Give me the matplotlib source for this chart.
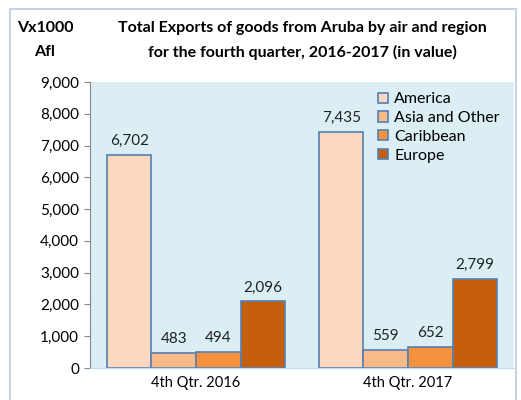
import numpy as np
import matplotlib.pyplot as plt
from matplotlib.patches import Rectangle

plt.rcParams['font.family'] = ['Lato', 'DejaVu Sans']

# Data
quarters = ['4th Qtr. 2016', '4th Qtr. 2017']
regions = ['America', 'Asia and Other', 'Caribbean', 'Europe']
america = [6702, 7435]
asia_other = [483, 559]
caribbean = [494, 652]
europe = [2096, 2799]

series = [america, asia_other, caribbean, europe]
colors = ['#FCD9BE', '#FABB88', '#F6923D', '#C55E0D']
edge = '#5580B5'

fig = plt.figure(figsize=(5.21, 4.00), dpi=100)
ax = fig.add_axes([90 / 521, 32 / 400, 424 / 521, 286 / 400])
ax.set_facecolor('#DAEEF3')

x = np.arange(len(quarters))
w = 0.21
for i, (vals, c, name) in enumerate(zip(series, colors, regions)):
    pos = x + (i - 1.5) * w
    bars = ax.bar(pos, vals, w, color=c, edgecolor=edge, linewidth=1.2, label=name)
    for b, v in zip(bars, vals):
        ax.annotate(f'{v:,}', (b.get_x() + b.get_width() / 2, v),
                    xytext=(0, 5), textcoords='offset points',
                    ha='center', va='bottom', fontsize=11, color='#222222')

ax.set_xlim(-0.5, 1.5)
ax.set_ylim(0, 9000)
ax.set_yticks(range(0, 9001, 1000))
ax.set_yticklabels([f'{t:,}' for t in range(0, 9001, 1000)], fontsize=11)
ax.set_xticks(x)
ax.set_xticklabels(quarters, fontsize=10.5)
ax.tick_params(axis='x', length=0, pad=6)
ax.tick_params(axis='y', length=4, color='#888888', pad=4)

for s in ['top', 'right']:
    ax.spines[s].set_visible(False)
ax.spines['left'].set_color('#888888')
ax.spines['bottom'].set_color('#C5D9EA')

leg = ax.legend(loc='upper left', bbox_to_anchor=(0.655, 1.0), frameon=False,
                fontsize=11.5, handlelength=0.6, handleheight=0.6,
                handletextpad=0.4, labelspacing=0.3, borderaxespad=0.25)

fig.text(302 / 521, 1 - 28 / 400, 'Total Exports of goods from Aruba by air and region',
         ha='center', va='center', fontsize=11.5, fontweight='bold')
fig.text(302 / 521, 1 - 52 / 400, 'for the fourth quarter, 2016-2017 (in value)',
         ha='center', va='center', fontsize=11.5, fontweight='bold')
fig.text(45 / 521, 1 - 28 / 400, 'Vx1000', ha='center', va='center',
         fontsize=11.5, fontweight='bold')
fig.text(45 / 521, 1 - 52 / 400, 'Afl', ha='center', va='center',
         fontsize=11.5, fontweight='bold')

# outer chart border
fig.patches.append(Rectangle((9.5 / 521, -0.05), 506 / 521, 1.05 - 9.5 / 400,
                             transform=fig.transFigure, fill=False,
                             edgecolor='#B9CDE5', linewidth=1.2))

fig.savefig('out.png', dpi=100)
